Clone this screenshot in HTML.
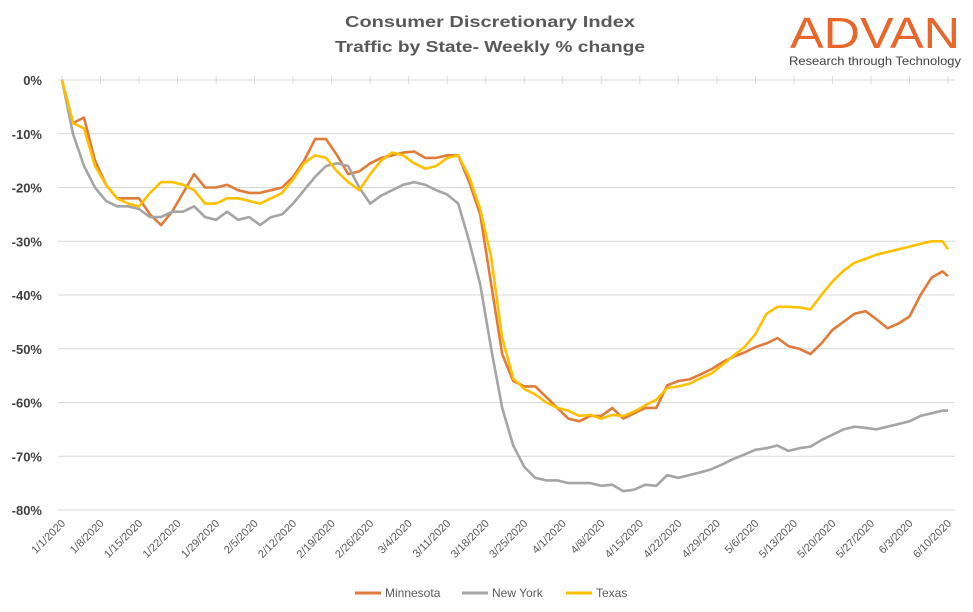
<!DOCTYPE html>
<html><head><meta charset="utf-8"><style>
html,body{margin:0;padding:0;background:#fff;width:973px;height:612px;overflow:hidden;font-family:"Liberation Sans",sans-serif}
</style></head><body>
<svg id="chart" width="973" height="612" xmlns="http://www.w3.org/2000/svg">
<text x="490" y="27" text-anchor="middle" font-size="16" font-weight="bold" fill="#595959" textLength="290" lengthAdjust="spacingAndGlyphs">Consumer Discretionary Index</text>
<text x="490" y="52" text-anchor="middle" font-size="16" font-weight="bold" fill="#595959" textLength="310" lengthAdjust="spacingAndGlyphs">Traffic by State- Weekly % change</text>
<text x="875" y="48" text-anchor="middle" font-size="44" fill="#E8662A" textLength="170" lengthAdjust="spacingAndGlyphs">ADVAN</text>
<text x="875" y="65" text-anchor="middle" font-size="12" fill="#404040" textLength="172" lengthAdjust="spacingAndGlyphs">Research through Technology</text>
<g id="grid"></g><g id="axes"></g><g id="series"></g>
<g>
<line x1="355" y1="593" x2="381" y2="593" stroke="#E07B39" stroke-width="3"/>
<text x="385" y="597" font-size="12" fill="#595959">Minnesota</text>
<line x1="462" y1="593" x2="488" y2="593" stroke="#A5A5A5" stroke-width="3"/>
<text x="492" y="597" font-size="12" fill="#595959">New York</text>
<line x1="566" y1="593" x2="592" y2="593" stroke="#FFC000" stroke-width="3"/>
<text x="596" y="597" font-size="12" fill="#595959">Texas</text>
</g>
</svg>
<script>
const days=[0,2,4,6,8,10,12,14,16,18,20,22,24,26,28,30,32,34,36,38,40,42,44,46,48,50,52,54,56,58,60,62,64,66,68,70,72,74,76,78,80,82,84,86,88,90,92,94,96,98,100,102,104,106,108,110,112,114,116,118,120,122,124,126,128,130,132,134,136,138,140,142,144,146,148,150,152,154,156,158,160,161];
const minnesota=[0,-8,-7,-15,-19.5,-22,-22,-22,-25,-27,-24.5,-21,-17.5,-20,-20,-19.5,-20.5,-21,-21,-20.5,-20,-18,-15,-11,-11,-14,-17.5,-17,-15.5,-14.5,-14,-13.5,-13.3,-14.5,-14.5,-14,-14,-19,-25,-38,-51,-56,-57,-57,-59,-61,-63,-63.5,-62.5,-62.5,-61,-63,-62,-61,-61,-56.8,-56,-55.7,-54.8,-53.8,-52.5,-51.5,-50.7,-49.7,-49,-48,-49.5,-50,-51,-49,-46.5,-45,-43.5,-43,-44.5,-46.2,-45.3,-44,-40,-36.8,-35.6,-36.5];
const newYork=[0,-10,-16,-20,-22.5,-23.5,-23.5,-24,-25.5,-25.5,-24.5,-24.5,-23.5,-25.5,-26,-24.5,-26,-25.5,-27,-25.5,-25,-23,-20.5,-18,-16,-15.5,-16,-20,-23,-21.5,-20.5,-19.5,-19,-19.5,-20.5,-21.3,-23,-30,-38,-50,-61,-68,-72,-74,-74.5,-74.5,-75,-75,-75,-75.5,-75.3,-76.5,-76.2,-75.3,-75.5,-73.5,-74,-73.5,-73,-72.4,-71.5,-70.5,-69.7,-68.8,-68.5,-68,-69,-68.5,-68.2,-67,-66,-65,-64.5,-64.7,-65,-64.5,-64,-63.5,-62.5,-62,-61.5,-61.5];
const texas=[0,-8,-9,-16,-19.5,-22,-23,-23.5,-21,-19,-19,-19.5,-20.5,-23,-23,-22,-22,-22.5,-23,-22,-21,-18.5,-15.5,-14,-14.5,-17,-19,-20.5,-17.5,-15,-13.5,-14,-15.5,-16.5,-16,-14.5,-14,-18,-24,-33,-48,-55.5,-57.5,-58.5,-60,-61,-61.5,-62.5,-62.3,-63,-62.3,-62.5,-61.7,-60.5,-59.5,-57.3,-57,-56.5,-55.5,-54.6,-53,-51.3,-49.7,-47.3,-43.5,-42.2,-42.2,-42.3,-42.7,-40,-37.5,-35.5,-34,-33.3,-32.5,-32,-31.5,-31,-30.5,-30,-30,-31.5];
const tickLabels=["1/1/2020","1/8/2020","1/15/2020","1/22/2020","1/29/2020","2/5/2020","2/12/2020","2/19/2020","2/26/2020","3/4/2020","3/11/2020","3/18/2020","3/25/2020","4/1/2020","4/8/2020","4/15/2020","4/22/2020","4/29/2020","5/6/2020","5/13/2020","5/20/2020","5/27/2020","6/3/2020","6/10/2020"];
const yTicks=[0,-10,-20,-30,-40,-50,-60,-70,-80];

const NS="http://www.w3.org/2000/svg";
const X=d=>62+d*5.503;
const Y=v=>80-v*5.375;
function mk(tag,attrs,parent){const e=document.createElementNS(NS,tag);for(const k in attrs)e.setAttribute(k,attrs[k]);parent.appendChild(e);return e;}
const grid=document.getElementById('grid'),axes=document.getElementById('axes'),ser=document.getElementById('series');
yTicks.forEach(v=>{
  const l=mk('line',{x1:58,x2:955,y1:Y(v),y2:Y(v),stroke:'#D9D9D9','stroke-width':1},grid);
  
  
  const t=mk('text',{x:42,y:Y(v)+5,'text-anchor':'end','font-size':13,'font-weight':'bold',fill:'#404040'},axes);
  t.textContent=v+'%';
  
  
});
tickLabels.forEach((s,i)=>{
  const x=X(i*7);
  const tk=mk('line',{x1:x,x2:x,y1:76,y2:84,stroke:'#D9D9D9','stroke-width':1},axes);
  
  
  const t=mk('text',{x:x+4,y:524,'text-anchor':'end','font-size':11,fill:'#595959',transform:`rotate(-45 ${x+4} 524)`},axes);
  t.textContent=s;
  
  
});
[[minnesota,'#E07B39','minnesota-line'],[newYork,'#A5A5A5','new-york-line'],[texas,'#FFC000','texas-line']].forEach(([vals,c,n])=>{
  const d=vals.map((v,i)=>(i?'L':'M')+X(days[i]).toFixed(1)+' '+Y(v).toFixed(1)).join(' ');
  const p=mk('path',{d:d,fill:'none',stroke:c,'stroke-width':2.6,'stroke-linejoin':'round'},ser);
  
  
});
</script>
</body></html>
